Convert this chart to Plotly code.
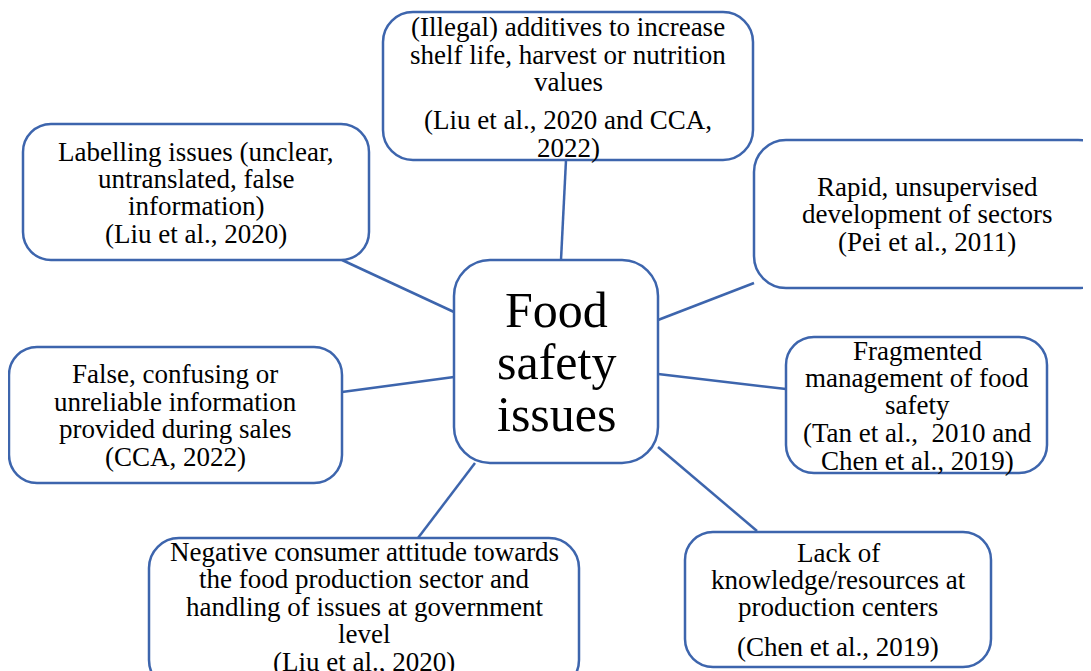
import plotly.graph_objects as go

# ---------------- data (texts) ----------------
center_lines = ["Food", "safety", "issues"]
additives_lines = ["(Illegal) additives to increase", "shelf life, harvest or nutrition", "values",
                   "(Liu et al., 2020 and CCA,", "2022)"]
labelling_lines = ["Labelling issues (unclear,", "untranslated, false", "information)", "(Liu et al., 2020)"]
rapid_lines = ["Rapid, unsupervised", "development of sectors", "(Pei et al., 2011)"]
false_lines = ["False, confusing or", "unreliable information", "provided during sales", "(CCA, 2022)"]
fragmented_lines = ["Fragmented", "management of food", "safety", "(Tan et al.,  2010 and", "Chen et al., 2019)"]
negative_lines = ["Negative consumer attitude towards", "the food production sector and",
                  "handling of issues at government", "level", "(Liu et al., 2020)"]
lack_lines = ["Lack of", "knowledge/resources at", "production centers", "(Chen et al., 2019)"]

# ---------------- geometry / style ----------------
W, H = 1091, 671
PAGE_OFFSET = 8  # default body margin of the page
BLUE = "#3d65ad"
FONT = "Liberation Serif"
SMALL = 27
BIG = 50

# box: (x0, y0, x1, y1, radius, text center x, list of line center y, font size)
boxes = [
    (center_lines, (454, 260, 658, 463, 36, 556, [310, 362, 414], BIG)),
    (additives_lines, (383, 12, 753, 160, 30, 568, [27, 55, 82, 120, 148], SMALL)),
    (labelling_lines, (23, 124, 369, 260, 28, 196, [152, 179, 206, 234], SMALL)),
    (rapid_lines, (754, 140, 1110, 288, 32, 927, [187, 214, 242], SMALL)),
    (false_lines, (9, 347, 342, 483, 28, 175, [374, 402, 429, 457], SMALL)),
    (fragmented_lines, (786, 337, 1047, 473, 28, 917, [351, 378, 405, 433, 461], SMALL)),
    (negative_lines, (149, 538, 579, 690, 30, 364, [552, 579, 607, 634, 662], SMALL)),
    (lack_lines, (685, 532, 991, 667, 28, 838, [553, 580, 607, 647], SMALL)),
]

connectors = [
    ((561, 260), (566, 160)),
    ((454, 312), (342, 260)),
    ((658, 320), (754, 283)),
    ((454, 377), (342, 392)),
    ((658, 374), (786, 389)),
    ((475, 463), (418, 538)),
    ((658, 447), (757, 531)),
]


def rounded_path(x0, y0, x1, y1, r):
    k = 0.5523 * r
    return (f"M {x0 + r},{y0} L {x1 - r},{y0} "
            f"C {x1 - r + k},{y0} {x1},{y0 + r - k} {x1},{y0 + r} "
            f"L {x1},{y1 - r} "
            f"C {x1},{y1 - r + k} {x1 - r + k},{y1} {x1 - r},{y1} "
            f"L {x0 + r},{y1} "
            f"C {x0 + r - k},{y1} {x0},{y1 - r + k} {x0},{y1 - r} "
            f"L {x0},{y0 + r} "
            f"C {x0},{y0 + r - k} {x0 + r - k},{y0} {x0 + r},{y0} Z")


fig = go.Figure()
fig.add_trace(go.Scatter(x=[PAGE_OFFSET, W], y=[PAGE_OFFSET, H], mode="markers",
                         marker=dict(opacity=0), hoverinfo="skip", showlegend=False))

shapes = []
for (a, b) in connectors:
    shapes.append(dict(type="line", x0=a[0], y0=a[1], x1=b[0], y1=b[1],
                       line=dict(color=BLUE, width=2.5), layer="below"))

annotations = []
for lines, (x0, y0, x1, y1, r, cx, ys, fs) in boxes:
    shapes.append(dict(type="path", path=rounded_path(x0, y0, x1, y1, r),
                       line=dict(color=BLUE, width=2.5), fillcolor="white", layer="below"))
    for txt, yy in zip(lines, ys):
        annotations.append(dict(x=cx, y=yy, text=txt, showarrow=False,
                                xanchor="center", yanchor="middle",
                                font=dict(family=FONT, size=fs, color="black")))

fig.update_layout(
    width=W - PAGE_OFFSET, height=H - PAGE_OFFSET,
    margin=dict(l=0, r=0, t=0, b=0),
    paper_bgcolor="white", plot_bgcolor="white",
    font=dict(family=FONT),
    xaxis=dict(range=[PAGE_OFFSET, W], visible=False, fixedrange=True),
    yaxis=dict(range=[H, PAGE_OFFSET], visible=False, fixedrange=True),
    shapes=shapes, annotations=annotations,
    showlegend=False,
)

fig.write_html("out.html")
